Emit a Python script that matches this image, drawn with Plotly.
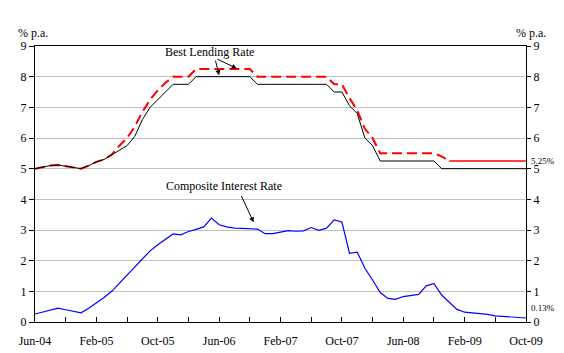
import pandas as pd
import plotly.graph_objects as go

months = pd.date_range("2004-06-01", "2009-10-01", freq="MS")
idx = list(range(len(months)))

tick_labels = ["Jun-04", "Feb-05", "Oct-05", "Jun-06", "Feb-07", "Oct-07", "Jun-08", "Feb-09", "Oct-09"]
tick_pos = [i for i, m in enumerate(months) if m.strftime("%b-%y") in tick_labels]

blr_upper = [5.0, 5.05, 5.1, 5.12, 5.08, 5.04, 5.0, 5.1, 5.22, 5.3,
             5.46, 5.75, 6.0, 6.37, 6.85, 7.25, 7.55, 7.8, 8.0, 8.0,
             8.0, 8.25, 8.25, 8.25, 8.25, 8.25, 8.25, 8.25, 8.25, 8.0,
             8.0, 8.0, 8.0, 8.0, 8.0, 8.0, 8.0, 8.0, 8.0, 7.75,
             7.75, 7.3, 6.9, 6.3, 6.0, 5.5, 5.5, 5.5, 5.5, 5.5,
             5.5, 5.5, 5.5, 5.4, 5.25, 5.25, 5.25, 5.25, 5.25, 5.25,
             5.25, 5.25, 5.25, 5.25, 5.25]

blr_lower = [5.0, 5.05, 5.1, 5.12, 5.08, 5.04, 5.0, 5.1, 5.22, 5.3,
             5.45, 5.58, 5.75, 6.05, 6.6, 7.0, 7.25, 7.5, 7.75, 7.75,
             7.75, 8.0, 8.0, 8.0, 8.0, 8.0, 8.0, 8.0, 8.0, 7.75,
             7.75, 7.75, 7.75, 7.75, 7.75, 7.75, 7.75, 7.75, 7.75, 7.5,
             7.5, 7.05, 6.8, 6.0, 5.75, 5.25, 5.25, 5.25, 5.25, 5.25,
             5.25, 5.25, 5.25, 5.0, 5.0, 5.0, 5.0, 5.0, 5.0, 5.0,
             5.0, 5.0, 5.0, 5.0, 5.0]

cir = [0.26, 0.32, 0.38, 0.45, 0.40, 0.35, 0.30, 0.45, 0.62, 0.80,
       1.00, 1.26, 1.52, 1.78, 2.05, 2.32, 2.52, 2.70, 2.87, 2.84,
       2.95, 3.02, 3.10, 3.39, 3.17, 3.10, 3.06, 3.05, 3.04, 3.03,
       2.88, 2.88, 2.93, 2.98, 2.96, 2.97, 3.08, 2.99, 3.06, 3.33,
       3.26, 2.24, 2.28, 1.75, 1.37, 0.96, 0.77, 0.74, 0.83, 0.87,
       0.90, 1.18, 1.26, 0.88, 0.66, 0.41, 0.32, 0.30, 0.28, 0.25,
       0.20, 0.18, 0.15, 0.13, 0.13]

FONT = "Liberation Serif"
split = 54  # red line drawn solid after this point

fig = go.Figure()
fig.add_trace(go.Scatter(x=idx[:split + 1], y=blr_upper[:split + 1], mode="lines",
                         line=dict(color="#ff0000", width=2, dash="10px,5px"), showlegend=False))
fig.add_trace(go.Scatter(x=idx[split:], y=blr_upper[split:], mode="lines",
                         line=dict(color="#ff0000", width=1.3), showlegend=False))
fig.add_trace(go.Scatter(x=idx, y=blr_lower, mode="lines",
                         line=dict(color="#000000", width=1), showlegend=False))
fig.add_trace(go.Scatter(x=idx, y=cir, mode="lines", yaxis="y2",
                         line=dict(color="#0000ff", width=1.2), showlegend=False))

ann_font = dict(family=FONT, size=12, color="black")
annotations = [
    dict(x=22.8, y=8.79, text="Best Lending Rate", showarrow=False, font=ann_font),
    dict(x=24.0, y=8.05, ax=-4, ay=-16, text="", showarrow=True, arrowhead=2,
         arrowsize=1, arrowwidth=1, arrowcolor="black"),
    dict(x=26.3, y=8.27, ax=-21, ay=-10, text="", showarrow=True, arrowhead=2,
         arrowsize=1, arrowwidth=1, arrowcolor="black"),
    dict(x=24.6, y=4.44, text="Composite Interest Rate", showarrow=False, font=ann_font),
    dict(x=28.5, y=3.25, ax=-13, ay=-28, text="", showarrow=True, arrowhead=2,
         arrowsize=1, arrowwidth=1, arrowcolor="black"),
    dict(x=idx[-1], y=blr_upper[-1], text="5.25%", showarrow=False, xanchor="left",
         xshift=3, font=dict(family=FONT, size=9, color="black")),
    dict(x=idx[-1], y=0.45, text="0.13%", showarrow=False, xanchor="left",
         xshift=3, font=dict(family=FONT, size=9, color="black")),
    dict(x=33, y=33, xref="paper", yref="paper", text="% p.a.", showarrow=False,
         xanchor="center", yanchor="middle", font=ann_font),
    dict(x=531, y=33, xref="paper", yref="paper", text="% p.a.", showarrow=False,
         xanchor="center", yanchor="middle", font=ann_font),
]
# convert pixel-based paper positions for the "% p.a." labels
W, H = 564, 353
ML, MR, MT, MB = 35, 38, 46, 31
for a in annotations:
    if a.get("xref") == "paper":
        a["x"] = (a["x"] - ML) / (W - ML - MR)
        a["y"] = (H - MB - a["y"]) / (H - MT - MB)

fig.update_layout(
    width=W, height=H,
    margin=dict(l=ML, r=MR, t=MT, b=MB, autoexpand=False),
    paper_bgcolor="white", plot_bgcolor="white",
    font=dict(family=FONT, size=12, color="black"),
    xaxis=dict(range=[0, idx[-1]], tickmode="array", tickvals=tick_pos, ticktext=tick_labels,
               ticks="inside", ticklen=5, tickcolor="black", showgrid=False,
               ticklabelstandoff=8, automargin=False,
               showline=True, linecolor="black", linewidth=1, mirror=True, zeroline=False,
               minor=dict(dtick=4, tick0=0, ticks="inside", ticklen=5, tickcolor="black",
                          showgrid=False)),
    yaxis=dict(range=[0, 9], dtick=1, ticks="outside", ticklen=5, tickcolor="black",
               showgrid=True, gridcolor="#c0c0c0", gridwidth=1, showline=True,
               linecolor="black", linewidth=1, zeroline=False, automargin=False),
    yaxis2=dict(range=[0, 9], dtick=1, overlaying="y", side="right", ticks="outside",
                ticklen=4, tickcolor="black", showgrid=False, showline=True,
                linecolor="black", linewidth=1, zeroline=False, automargin=False),
    annotations=annotations,
)

fig.write_html("out.html")
